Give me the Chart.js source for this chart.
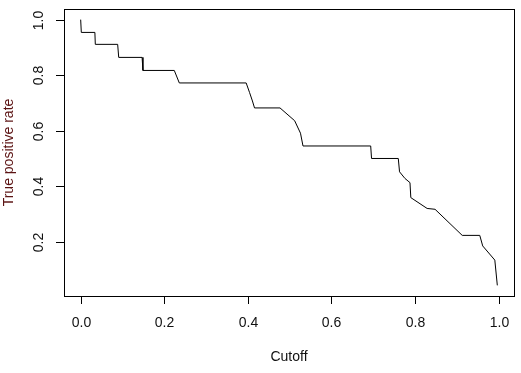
<!DOCTYPE html>
<html>
<head>
<meta charset="utf-8">
<script src="https://cdn.jsdelivr.net/npm/chart.js@4/dist/chart.umd.min.js"></script>
<style>
  html, body { margin: 0; padding: 0; background: #fff; }
  #wrap { width: 521px; height: 373px; }
</style>
</head>
<body>
<div id="wrap"><canvas id="rocChart"></canvas></div>
<script>
// cutoff vs true positive rate
var cutoff = [0, 0.0015, 0.034, 0.035, 0.0885, 0.091, 0.147, 0.149, 0.224, 0.236,
    0.396, 0.404, 0.411, 0.416, 0.477, 0.512, 0.526, 0.532, 0.694, 0.696,
    0.760, 0.763, 0.776, 0.788, 0.790, 0.829, 0.848, 0.913, 0.955, 0.962,
    0.991, 0.997];
var tpr = [1.0, 0.954, 0.954, 0.911, 0.911, 0.864, 0.864, 0.817, 0.817, 0.772,
    0.772, 0.738, 0.707, 0.682, 0.682, 0.636, 0.591, 0.545, 0.545, 0.500,
    0.500, 0.452, 0.428, 0.413, 0.359, 0.320, 0.317, 0.223, 0.223, 0.185,
    0.134, 0.043];
var xTicks = [0, 0.2, 0.4, 0.6, 0.8, 1.0];
var yTicks = [0.2, 0.4, 0.6, 0.8, 1.0];
var xTitle = 'Cutoff';
var yTitle = 'True positive rate';

var points = cutoff.map(function (c, i) { return { x: c, y: tpr[i] }; });

// R style box, outward ticks and rotated y labels
var rAxes = {
    id: 'rAxes',
    afterDraw: function (chart) {
        var ctx = chart.ctx;
        var a = chart.chartArea;
        var xs = chart.scales.x, ys = chart.scales.y;
        ctx.save();
        ctx.strokeStyle = '#000';
        ctx.lineWidth = 1;
        ctx.strokeRect(Math.round(a.left) + 0.5, Math.round(a.top) + 0.5,
            Math.round(a.right - a.left), Math.round(a.bottom - a.top));

        ctx.font = '14px "Liberation Sans", Arial, sans-serif';
        ctx.fillStyle = '#111';
        ctx.textAlign = 'center';
        ctx.textBaseline = 'middle';
        xTicks.forEach(function (t) {
            var px = Math.round(xs.getPixelForValue(t)) + 0.5;
            ctx.beginPath();
            ctx.moveTo(px, a.bottom);
            ctx.lineTo(px, a.bottom + 8);
            ctx.stroke();
            ctx.fillText(t.toFixed(1), px, a.bottom + 27);
        });
        yTicks.forEach(function (t) {
            var py = Math.round(ys.getPixelForValue(t)) + 0.5;
            ctx.beginPath();
            ctx.moveTo(a.left, py);
            ctx.lineTo(a.left - 8, py);
            ctx.stroke();
            ctx.save();
            ctx.translate(a.left - 25, py);
            ctx.rotate(-Math.PI / 2);
            ctx.fillText(t.toFixed(1), 0, 0);
            ctx.restore();
        });

        ctx.fillText(xTitle, (a.left + a.right) / 2, a.bottom + 61);
        ctx.save();
        ctx.fillStyle = '#5c1414';
        ctx.translate(9, (a.top + a.bottom) / 2);
        ctx.rotate(-Math.PI / 2);
        ctx.fillText(yTitle, 0, 0);
        ctx.restore();
        ctx.restore();
    }
};

var ctx = document.getElementById('rocChart').getContext('2d');
var rocChart = new Chart(ctx, {
    type: 'scatter',
    data: {
        datasets: [{
            data: points,
            showLine: true,
            borderColor: '#000',
            borderWidth: 1,
            pointRadius: 0,
            fill: false,
            tension: 0
        }]
    },
    options: {
        responsive: true,
        maintainAspectRatio: false,
        animation: false,
        layout: { padding: { left: 64, top: 9, right: 7, bottom: 77 } },
        scales: {
            x: { type: 'linear', display: false, min: -0.0399, max: 1.0369 },
            y: { type: 'linear', display: false, min: 0.0047, max: 1.0383 }
        },
        plugins: {
            legend: { display: false },
            tooltip: { enabled: false }
        }
    },
    plugins: [rAxes]
});
</script>
</body>
</html>
